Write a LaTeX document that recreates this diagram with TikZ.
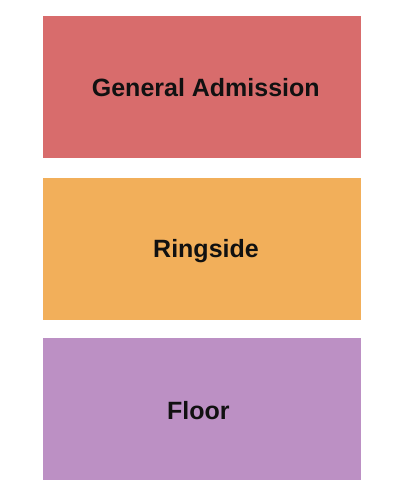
\documentclass[tikz,border=0pt]{standalone}
\usepackage{fontspec}
\setmainfont{Liberation Sans}
\definecolor{gacol}{RGB}{216,108,108}
\definecolor{rscol}{RGB}{242,175,90}
\definecolor{flcol}{RGB}{188,144,196}
\definecolor{txtcol}{RGB}{17,17,17}
\tikzset{
  zone/.style={draw=none,rectangle,inner sep=0pt,minimum width=318pt,minimum height=142pt},
  zonelabel/.style={anchor=base,inner sep=0pt,text=txtcol,font=\bfseries\fontsize{25}{30}\selectfont}
}
\begin{document}
\begin{tikzpicture}[x=1pt,y=1pt]
  \useasboundingbox (0,0) rectangle (404,500);
  \node[zone,fill=gacol] (ga) at (202,413) {};
  \node[zone,fill=rscol] (rs) at (202,251.25) {};
  \node[zone,fill=flcol] (fl) at (202,91) {};
  \node[zonelabel] (galbl) at (205.8,403.3) {General Admission};
  \node[zonelabel] (rslbl) at (206,242.3) {Ringside};
  \node[zonelabel] (fllbl) at (198.3,80.7) {Floor};
\end{tikzpicture}
\end{document}
